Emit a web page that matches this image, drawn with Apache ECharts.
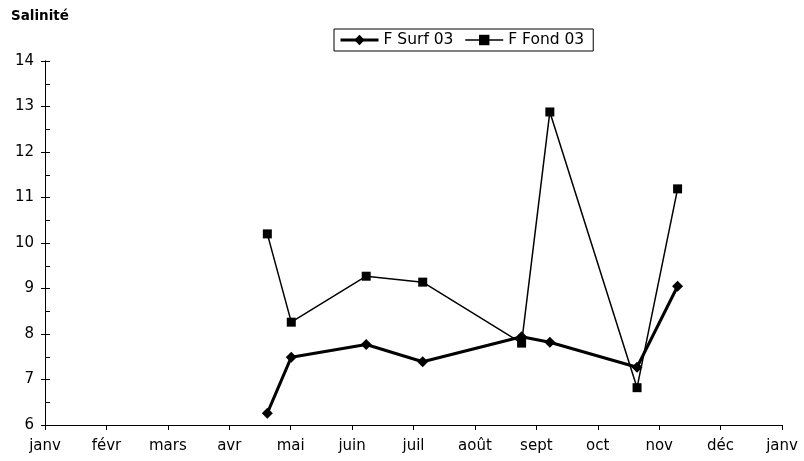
<!DOCTYPE html>
<html><head><meta charset="utf-8">
<script src="https://cdn.jsdelivr.net/npm/echarts@6/dist/echarts.min.js"></script>
<style>html,body{margin:0;padding:0;background:#fff}#c{width:804px;height:461px}</style>
</head><body><div id="c"></div>
<script>
const monthLabels = ['janv','févr','mars','avr','mai','juin','juil','août','sept','oct','nov','déc','janv'];
// sampling dates expressed as month position (0 = 1 janv)
const samplePos = [3.62, 4.01, 5.23, 6.15, 7.76, 8.22, 9.64, 10.30];
const surf03 = [6.26, 7.49, 7.77, 7.39, 7.94, 7.82, 7.27, 9.05];
const fond03 = [10.20, 8.26, 9.27, 9.14, 7.80, 12.88, 6.82, 11.19];
const yTicks = [6,7,8,9,10,11,12,13,14];

const font = '"DejaVu Sans", "Liberation Sans", Arial, sans-serif';
const chart = echarts.init(document.getElementById('c'), null, {renderer:'canvas'});
const pair = (vals) => samplePos.map((x,i)=>[x, vals[i]]);
const gridLeft = 45, gridRight = 22;
chart.setOption({
  animation:false,
  backgroundColor:'#fff',
  title:{text:'Salinité', left:11, top:9, padding:0,
    textStyle:{fontFamily:font, fontSize:13.5, fontWeight:'bold', color:'#000'}},
  legend:{
    top:29, left:334, itemWidth:38, itemHeight:13, itemGap:11,
    borderColor:'#000', borderWidth:1, padding:[3,9,3,5],
    textStyle:{fontFamily:font, fontSize:15.5, color:'#000'},
    data:[
      {name:'F Surf 03', lineStyle:{width:3, color:'#000'}},
      {name:'F Fond 03', lineStyle:{width:1.5, color:'#000'}}
    ]
  },
  grid:{left:gridLeft, right:gridRight, top:61, bottom:36, containLabel:false},
  xAxis:{
    type:'value', min:0, max:12, interval:1,
    axisLine:{lineStyle:{color:'#000', width:1}},
    axisTick:{show:true, length:5, lineStyle:{color:'#000'}},
    splitLine:{show:false},
    axisLabel:{margin:14, fontFamily:font, fontSize:15, color:'#000', formatter:(v)=>monthLabels[Math.round(v)]}
  },
  yAxis:[{
    type:'value', position:'left', min:yTicks[0], max:yTicks[yTicks.length-1], interval:1,
    axisLine:{show:true, lineStyle:{color:'#000', width:1}},
    axisTick:{show:true, length:4, lineStyle:{color:'#000'}},
    splitLine:{show:false},
    axisLabel:{margin:11, fontFamily:font, fontSize:15, color:'#000'}
  },{
    type:'value', position:'right', offset:-(804-gridLeft-gridRight),
    min:yTicks[0], max:yTicks[yTicks.length-1], interval:0.5,
    axisLine:{show:true, lineStyle:{color:'#000', width:1}},
    axisTick:{show:true, length:5, lineStyle:{color:'#000'}},
    splitLine:{show:false},
    axisLabel:{show:false}
  }],
  series:[{
    name:'F Surf 03', type:'line', data:pair(surf03),
    symbol:'diamond', symbolSize:11, showAllSymbol:true,
    lineStyle:{color:'#000', width:3},
    itemStyle:{color:'#000'}
  },{
    name:'F Fond 03', type:'line', data:pair(fond03),
    symbol:'rect', symbolSize:9, showAllSymbol:true,
    lineStyle:{color:'#000', width:1.5},
    itemStyle:{color:'#000'}
  }]
});
</script></body></html>
